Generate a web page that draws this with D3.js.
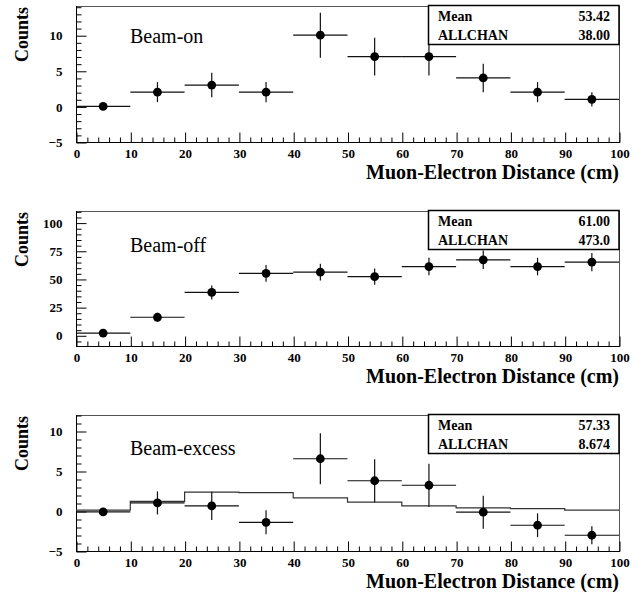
<!DOCTYPE html>
<html>
<head>
<meta charset="utf-8">
<script src="https://cdn.jsdelivr.net/npm/d3@7"></script>
<style>
  html, body { margin: 0; padding: 0; background: #fff; }
  svg { display: block; }
  text { font-family: "Liberation Serif", "Times New Roman", serif; }
</style>
</head>
<body>
<svg id="chart" width="641" height="592"></svg>
<script>
// ---------------- data ----------------
const binCenters = [5, 15, 25, 35, 45, 55, 65, 75, 85, 95];
const binHalfWidth = 5;
const xTicks = [0, 10, 20, 30, 40, 50, 60, 70, 80, 90, 100];

const beamOn    = [0, 2, 3, 2, 10, 7, 7, 4, 2, 1];
const beamOnErr = [0, 1.41, 1.73, 1.41, 3.16, 2.65, 2.65, 2.0, 1.41, 1.0];

const beamOff    = [2, 16, 38, 55, 56, 52, 61, 67, 61, 65];
const beamOffErr = [1.41, 4.0, 6.16, 7.42, 7.48, 7.21, 7.81, 8.19, 7.81, 8.06];

const beamExcess    = [-0.12, 1.01, 0.64, -1.41, 6.53, 3.78, 3.22, -0.15, -1.78, -3.03];
const beamExcessErr = [0.09, 1.44, 1.77, 1.49, 3.20, 2.69, 2.69, 2.06, 1.49, 1.12];
const excessPrediction = [0.1, 1.2, 2.35, 2.3, 1.65, 1.1, 0.65, 0.4, 0.3, 0.12];

const panelNames  = ["Beam-on", "Beam-off", "Beam-excess"];
const statLabels  = ["Mean", "ALLCHAN"];
const statMeans   = ["53.42", "61.00", "57.33"];
const statAllchan = ["38.00", "473.0", "8.674"];

const yTicksOn     = [-5, 0, 5, 10];
const yTicksOff    = [0, 25, 50, 75, 100];
const yTicksExcess = [-5, 0, 5, 10];

const xTitle = "Muon-Electron Distance (cm)";
const yTitle = "Counts";

// ---------------- layout ----------------
const L = 76, R = 619;
const FONT = '"Liberation Serif", "Times New Roman", serif';
const panels = [
  { top: 6,   bottom: 142, domain: [-5, 14.1],   ticks: yTicksOn,     minorStep: 1,
    vals: beamOn, errs: beamOnErr, pred: null, labelDy: 37 },
  { top: 211, bottom: 346, domain: [-9.5, 110.3], ticks: yTicksOff,   minorStep: 5,
    vals: beamOff, errs: beamOffErr, pred: null, labelDy: 41 },
  { top: 415, bottom: 551, domain: [-5, 12],     ticks: yTicksExcess, minorStep: 1,
    vals: beamExcess, errs: beamExcessErr, pred: excessPrediction, labelDy: 40 }
];

const svg = d3.select("#chart");
const x = d3.scaleLinear().domain([0, 100]).range([L, R]);

panels.forEach((p, i) => {
  const y = d3.scaleLinear().domain(p.domain).range([p.bottom, p.top]);
  const g = svg.append("g");

  // frame
  g.append("rect")
    .attr("x", L + 0.5).attr("y", p.top + 0.5)
    .attr("width", R - L).attr("height", p.bottom - p.top)
    .attr("fill", "none").attr("stroke", "#555").attr("stroke-width", 1);

  // x axis (major + minor)
  const xMinor = d3.range(0, 100.001, 2).filter(v => v % 10 !== 0);
  const xAxisMinor = d3.axisBottom(x).tickValues(xMinor).tickSizeInner(-5).tickSizeOuter(0).tickFormat("");
  const xAxisMajor = d3.axisBottom(x).tickValues(xTicks).tickSizeInner(-10).tickSizeOuter(0)
    .tickPadding(6).tickFormat(d3.format("d"));
  const gxm = g.append("g").attr("transform", `translate(0.5,${p.bottom + 0.5})`).call(xAxisMinor);
  const gx = g.append("g").attr("transform", `translate(0.5,${p.bottom + 0.5})`).call(xAxisMajor);
  [gxm, gx].forEach(a => { a.attr("font-family", FONT); a.select(".domain").remove(); a.selectAll("line").attr("stroke", "#000"); });
  gx.selectAll("text").attr("font-size", 13).attr("font-weight", "bold").attr("fill", "#000")
    .style("font-family", FONT);

  // y axis
  const yMinor = d3.range(Math.ceil(p.domain[0] / p.minorStep) * p.minorStep, p.domain[1] + 1e-9, p.minorStep)
    .filter(v => !p.ticks.includes(v));
  const yAxisMinor = d3.axisLeft(y).tickValues(yMinor).tickSizeInner(-5).tickSizeOuter(0).tickFormat("");
  const yAxisMajor = d3.axisLeft(y).tickValues(p.ticks).tickSizeInner(-10).tickSizeOuter(0)
    .tickPadding(14).tickFormat(d3.format("d"));
  const gym = g.append("g").attr("transform", `translate(${L + 0.5},0.5)`).call(yAxisMinor);
  const gy = g.append("g").attr("transform", `translate(${L + 0.5},0.5)`).call(yAxisMajor);
  [gym, gy].forEach(a => { a.attr("font-family", FONT); a.select(".domain").remove(); a.selectAll("line").attr("stroke", "#000"); });
  gy.selectAll("text").attr("font-size", 13).attr("font-weight", "bold").attr("fill", "#000")
    .style("font-family", FONT);

  // axis lines (left and bottom in black)
  g.append("line").attr("x1", L + 0.5).attr("x2", L + 0.5).attr("y1", p.top).attr("y2", p.bottom + 1)
    .attr("stroke", "#000");
  g.append("line").attr("x1", L).attr("x2", R + 1).attr("y1", p.bottom + 0.5).attr("y2", p.bottom + 0.5)
    .attr("stroke", "#000");

  // prediction histogram (step)
  if (p.pred) {
    const pts = binCenters.map((c, k) => [c - binHalfWidth, p.pred[k]]);
    pts.push([100, p.pred[p.pred.length - 1]]);
    const line = d3.line().x(d => x(d[0])).y(d => y(d[1])).curve(d3.curveStepAfter);
    g.append("path").attr("d", line(pts)).attr("fill", "none")
      .attr("stroke", "#333").attr("stroke-width", 1.2);
  }

  // data error bars + markers
  const pg = g.append("g");
  binCenters.forEach((c, k) => {
    const v = p.vals[k], e = p.errs[k];
    pg.append("line").attr("x1", x(c - binHalfWidth)).attr("x2", x(c + binHalfWidth))
      .attr("y1", y(v)).attr("y2", y(v)).attr("stroke", "#111").attr("stroke-width", 1.2);
    if (e > 0) {
      pg.append("line").attr("x1", x(c)).attr("x2", x(c))
        .attr("y1", y(v - e)).attr("y2", y(v + e)).attr("stroke", "#111").attr("stroke-width", 1.2);
    }
    pg.append("circle").attr("cx", x(c)).attr("cy", y(v)).attr("r", 4.4).attr("fill", "#000");
  });

  // panel label
  g.append("text").attr("x", 130).attr("y", p.top + p.labelDy)
    .attr("font-size", 20).attr("fill", "#000").text(panelNames[i]);

  // stat box
  const bx = 428.5, bw = R - 428.5, by = p.top - 0.5, bh = 39;
  g.append("rect").attr("x", bx).attr("y", by).attr("width", bw).attr("height", bh)
    .attr("fill", "#fff").attr("stroke", "#000").attr("stroke-width", 1.5);
  const statVals = [statMeans[i], statAllchan[i]];
  statLabels.forEach((lab, j) => {
    const by0 = by + 15.5 + j * 18.5;
    g.append("text").attr("x", 438).attr("y", by0).attr("font-size", 14).attr("font-weight", "bold")
      .attr("fill", "#000").text(lab);
    g.append("text").attr("x", 610).attr("y", by0).attr("font-size", 14).attr("font-weight", "bold")
      .attr("text-anchor", "end").attr("fill", "#000").text(statVals[j]);
  });

  // axis titles
  g.append("text").attr("x", R).attr("y", p.bottom + 37).attr("text-anchor", "end")
    .attr("font-size", 20).attr("font-weight", "bold").attr("fill", "#000").text(xTitle);
  g.append("text").attr("transform", `translate(28,${p.top + 1}) rotate(-90)`)
    .attr("text-anchor", "end").attr("font-size", 18).attr("font-weight", "bold")
    .attr("fill", "#000").text(yTitle);
});
</script>
</body>
</html>
